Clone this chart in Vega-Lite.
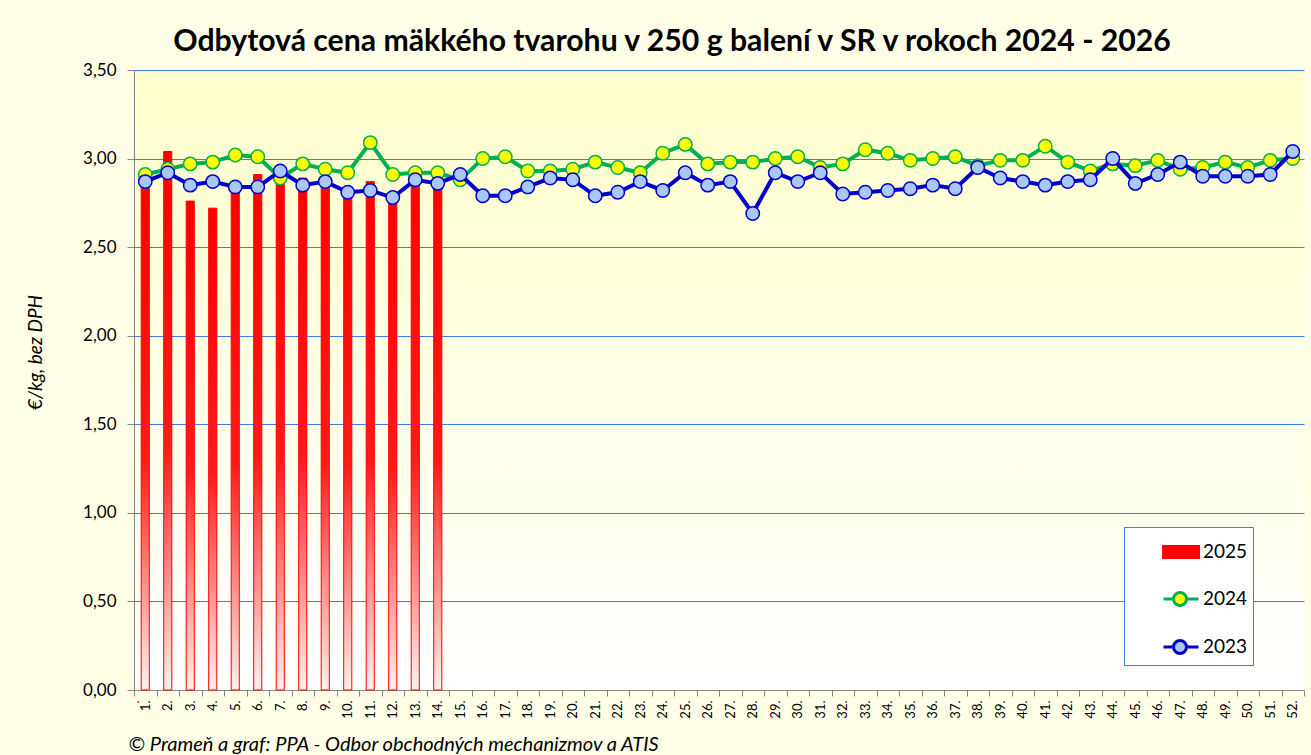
{
  "$schema": "https://vega.github.io/schema/vega-lite/v6.json",
  "width": 1170,
  "height": 620,
  "autosize": {"type": "none"},
  "padding": {"left": 134, "top": 70, "right": 7, "bottom": 65},
  "background": "#FFFFE8",
  "title": {
    "text": "Odbytová cena mäkkého tvarohu v 250 g balení v SR v rokoch 2024 - 2026",
    "font": "Lato",
    "fontSize": 30.2,
    "fontWeight": "bold",
    "color": "#000000",
    "anchor": "middle",
    "frame": "group",
    "baseline": "alphabetic",
    "offset": 17,
    "dy": 37,
    "dx": -47
  },
  "config": {
    "view": {
      "stroke": null,
      "fill": {
        "gradient": "linear",
        "x1": 0, "y1": 0, "x2": 0, "y2": 1,
        "stops": [
          {"offset": 0, "color": "#FFFFCC"},
          {"offset": 1, "color": "#FFFFFF"}
        ]
      }
    }
  },
  "data": {
    "values": [
      {"w": 1, "year": "2025", "v": 2.87},
      {"w": 2, "year": "2025", "v": 3.04},
      {"w": 3, "year": "2025", "v": 2.76},
      {"w": 4, "year": "2025", "v": 2.72},
      {"w": 5, "year": "2025", "v": 2.84},
      {"w": 6, "year": "2025", "v": 2.91},
      {"w": 7, "year": "2025", "v": 2.90},
      {"w": 8, "year": "2025", "v": 2.89},
      {"w": 9, "year": "2025", "v": 2.87},
      {"w": 10, "year": "2025", "v": 2.82},
      {"w": 11, "year": "2025", "v": 2.87},
      {"w": 12, "year": "2025", "v": 2.78},
      {"w": 13, "year": "2025", "v": 2.89},
      {"w": 14, "year": "2025", "v": 2.87},
      {"w": 1, "year": "2024", "v": 2.91},
      {"w": 2, "year": "2024", "v": 2.94},
      {"w": 3, "year": "2024", "v": 2.97},
      {"w": 4, "year": "2024", "v": 2.98},
      {"w": 5, "year": "2024", "v": 3.02},
      {"w": 6, "year": "2024", "v": 3.01},
      {"w": 7, "year": "2024", "v": 2.89},
      {"w": 8, "year": "2024", "v": 2.97},
      {"w": 9, "year": "2024", "v": 2.94},
      {"w": 10, "year": "2024", "v": 2.92},
      {"w": 11, "year": "2024", "v": 3.09},
      {"w": 12, "year": "2024", "v": 2.91},
      {"w": 13, "year": "2024", "v": 2.92},
      {"w": 14, "year": "2024", "v": 2.92},
      {"w": 15, "year": "2024", "v": 2.88},
      {"w": 16, "year": "2024", "v": 3.00},
      {"w": 17, "year": "2024", "v": 3.01},
      {"w": 18, "year": "2024", "v": 2.93},
      {"w": 19, "year": "2024", "v": 2.93},
      {"w": 20, "year": "2024", "v": 2.94},
      {"w": 21, "year": "2024", "v": 2.98},
      {"w": 22, "year": "2024", "v": 2.95},
      {"w": 23, "year": "2024", "v": 2.92},
      {"w": 24, "year": "2024", "v": 3.03},
      {"w": 25, "year": "2024", "v": 3.08},
      {"w": 26, "year": "2024", "v": 2.97},
      {"w": 27, "year": "2024", "v": 2.98},
      {"w": 28, "year": "2024", "v": 2.98},
      {"w": 29, "year": "2024", "v": 3.00},
      {"w": 30, "year": "2024", "v": 3.01},
      {"w": 31, "year": "2024", "v": 2.95},
      {"w": 32, "year": "2024", "v": 2.97},
      {"w": 33, "year": "2024", "v": 3.05},
      {"w": 34, "year": "2024", "v": 3.03},
      {"w": 35, "year": "2024", "v": 2.99},
      {"w": 36, "year": "2024", "v": 3.00},
      {"w": 37, "year": "2024", "v": 3.01},
      {"w": 38, "year": "2024", "v": 2.96},
      {"w": 39, "year": "2024", "v": 2.99},
      {"w": 40, "year": "2024", "v": 2.99},
      {"w": 41, "year": "2024", "v": 3.07},
      {"w": 42, "year": "2024", "v": 2.98},
      {"w": 43, "year": "2024", "v": 2.93},
      {"w": 44, "year": "2024", "v": 2.97},
      {"w": 45, "year": "2024", "v": 2.96},
      {"w": 46, "year": "2024", "v": 2.99},
      {"w": 47, "year": "2024", "v": 2.94},
      {"w": 48, "year": "2024", "v": 2.95},
      {"w": 49, "year": "2024", "v": 2.98},
      {"w": 50, "year": "2024", "v": 2.95},
      {"w": 51, "year": "2024", "v": 2.99},
      {"w": 52, "year": "2024", "v": 3.00},
      {"w": 1, "year": "2023", "v": 2.87},
      {"w": 2, "year": "2023", "v": 2.92},
      {"w": 3, "year": "2023", "v": 2.85},
      {"w": 4, "year": "2023", "v": 2.87},
      {"w": 5, "year": "2023", "v": 2.84},
      {"w": 6, "year": "2023", "v": 2.84},
      {"w": 7, "year": "2023", "v": 2.93},
      {"w": 8, "year": "2023", "v": 2.85},
      {"w": 9, "year": "2023", "v": 2.87},
      {"w": 10, "year": "2023", "v": 2.81},
      {"w": 11, "year": "2023", "v": 2.82},
      {"w": 12, "year": "2023", "v": 2.78},
      {"w": 13, "year": "2023", "v": 2.88},
      {"w": 14, "year": "2023", "v": 2.86},
      {"w": 15, "year": "2023", "v": 2.91},
      {"w": 16, "year": "2023", "v": 2.79},
      {"w": 17, "year": "2023", "v": 2.79},
      {"w": 18, "year": "2023", "v": 2.84},
      {"w": 19, "year": "2023", "v": 2.89},
      {"w": 20, "year": "2023", "v": 2.88},
      {"w": 21, "year": "2023", "v": 2.79},
      {"w": 22, "year": "2023", "v": 2.81},
      {"w": 23, "year": "2023", "v": 2.87},
      {"w": 24, "year": "2023", "v": 2.82},
      {"w": 25, "year": "2023", "v": 2.92},
      {"w": 26, "year": "2023", "v": 2.85},
      {"w": 27, "year": "2023", "v": 2.87},
      {"w": 28, "year": "2023", "v": 2.69},
      {"w": 29, "year": "2023", "v": 2.92},
      {"w": 30, "year": "2023", "v": 2.87},
      {"w": 31, "year": "2023", "v": 2.92},
      {"w": 32, "year": "2023", "v": 2.80},
      {"w": 33, "year": "2023", "v": 2.81},
      {"w": 34, "year": "2023", "v": 2.82},
      {"w": 35, "year": "2023", "v": 2.83},
      {"w": 36, "year": "2023", "v": 2.85},
      {"w": 37, "year": "2023", "v": 2.83},
      {"w": 38, "year": "2023", "v": 2.95},
      {"w": 39, "year": "2023", "v": 2.89},
      {"w": 40, "year": "2023", "v": 2.87},
      {"w": 41, "year": "2023", "v": 2.85},
      {"w": 42, "year": "2023", "v": 2.87},
      {"w": 43, "year": "2023", "v": 2.88},
      {"w": 44, "year": "2023", "v": 3.00},
      {"w": 45, "year": "2023", "v": 2.86},
      {"w": 46, "year": "2023", "v": 2.91},
      {"w": 47, "year": "2023", "v": 2.98},
      {"w": 48, "year": "2023", "v": 2.90},
      {"w": 49, "year": "2023", "v": 2.90},
      {"w": 50, "year": "2023", "v": 2.90},
      {"w": 51, "year": "2023", "v": 2.91},
      {"w": 52, "year": "2023", "v": 3.04}
    ]
  },
  "encoding": {
    "x": {
      "field": "w",
      "type": "ordinal",
      "scale": {"paddingInner": 0, "paddingOuter": 0},
      "axis": {
        "title": "© Prameň a graf: PPA - Odbor obchodných mechanizmov a ATIS",
        "titleFont": "Lato",
        "titleFontSize": 20,
        "titleFontStyle": "italic",
        "titleFontWeight": "normal",
        "titleColor": "#000000",
        "titleAnchor": "start",
        "titleAlign": "left",
        "titleBaseline": "alphabetic",
        "titleX": -6,
        "titleY": 60,
        "labelExpr": "datum.label + '.'",
        "labelAngle": 270,
        "labelFont": "Lato",
        "labelFontSize": 13,
        "labelColor": "#000000",
        "labelPadding": 4,
        "tickBand": "extent",
        "tickSize": 6,
        "tickColor": "#868686",
        "domainColor": "#868686",
        "grid": false
      }
    },
    "y": {
      "field": "v",
      "type": "quantitative",
      "scale": {"domain": [0, 3.5], "nice": false, "zero": true},
      "axis": {
        "title": "€/kg, bez DPH",
        "titleFont": "Lato",
        "titleFontSize": 19,
        "titleFontStyle": "italic",
        "titleFontWeight": "normal",
        "titleColor": "#000000",
        "titleAngle": 270,
        "titleAlign": "center",
        "titleBaseline": "middle",
        "titleX": -99,
        "titleY": 282,
        "values": [0, 0.5, 1, 1.5, 2, 2.5, 3, 3.5],
        "labelExpr": "replace(format(datum.value, '.2f'), '.', ',')",
        "labelFont": "Lato",
        "labelFontSize": 17,
        "labelColor": "#000000",
        "labelPadding": 11,
        "tickSize": 7,
        "tickColor": "#868686",
        "domainColor": "#868686",
        "gridColor": "#3C7CF0",
        "gridWidth": 1.2
      }
    }
  },
  "layer": [
    {
      "transform": [{"filter": "datum.year === '2025'"}],
      "mark": {
        "type": "bar",
        "width": {"band": 0.36},
        "fill": {
          "gradient": "linear",
          "x1": 0, "y1": 0, "x2": 0, "y2": 1,
          "stops": [
            {"offset": 0, "color": "#FF0000"},
            {"offset": 0.55, "color": "#FF1A1A"},
            {"offset": 1, "color": "#FFF2EC"}
          ]
        },
        "stroke": "#FF0000",
        "strokeWidth": 1
      }
    },
    {
      "transform": [{"filter": "datum.year === '2024'"}],
      "mark": {"type": "line", "strokeWidth": 4, "stroke": "#00B050"}
    },
    {
      "transform": [{"filter": "datum.year === '2024'"}],
      "mark": {"type": "point", "filled": true, "size": 180, "strokeWidth": 1.5, "opacity": 1},
      "encoding": {
        "stroke": {
          "field": "year",
          "type": "nominal",
          "scale": {"domain": ["2025", "2024", "2023"], "range": ["#FF0000", "#00B050", "#0000CC"]},
          "legend": {
            "title": " ",
            "titleOrient": "left",
            "titleFontSize": 6,
            "titlePadding": 31,
            "orient": "none",
            "legendX": 990,
            "legendY": 457,
            "padding": 5,
            "fillColor": "#FFFFFF",
            "strokeColor": "#3C7CF0",
            "symbolSize": 1369,
            "symbolType": {"expr": "datum.value === '2025' ? 'M-0.89,-0.3H1V0.3H-0.89Z' : 'M-0.89,0H-0.35A0.35,0.35 0 1,0 0.35,0A0.35,0.35 0 1,0 -0.35,0M0.35,0H1'"},
            "symbolStrokeWidth": 3,
            "rowPadding": 15,
            "labelFont": "Lato",
            "labelFontSize": 19,
            "labelColor": "#000000",
            "labelOffset": 3
          }
        },
        "fill": {
          "field": "year",
          "type": "nominal",
          "scale": {"domain": ["2025", "2024", "2023"], "range": ["#FF0000", "#FFFF00", "#A9C8F7"]},
          "legend": {
            "title": " ",
            "titleOrient": "left",
            "titleFontSize": 6,
            "titlePadding": 31,
            "orient": "none",
            "legendX": 990,
            "legendY": 457,
            "padding": 5,
            "fillColor": "#FFFFFF",
            "strokeColor": "#3C7CF0",
            "symbolSize": 1369,
            "symbolType": {"expr": "datum.value === '2025' ? 'M-0.89,-0.3H1V0.3H-0.89Z' : 'M-0.89,0H-0.35A0.35,0.35 0 1,0 0.35,0A0.35,0.35 0 1,0 -0.35,0M0.35,0H1'"},
            "symbolStrokeWidth": 3,
            "rowPadding": 15,
            "labelFont": "Lato",
            "labelFontSize": 19,
            "labelColor": "#000000",
            "labelOffset": 3
          }
        }
      }
    },
    {
      "transform": [{"filter": "datum.year === '2023'"}],
      "mark": {"type": "line", "strokeWidth": 4, "stroke": "#0000CC"}
    },
    {
      "transform": [{"filter": "datum.year === '2023'"}],
      "mark": {"type": "point", "filled": true, "size": 180, "strokeWidth": 1.5, "opacity": 1},
      "encoding": {
        "stroke": {"field": "year", "type": "nominal"},
        "fill": {"field": "year", "type": "nominal"}
      }
    }
  ]
}
